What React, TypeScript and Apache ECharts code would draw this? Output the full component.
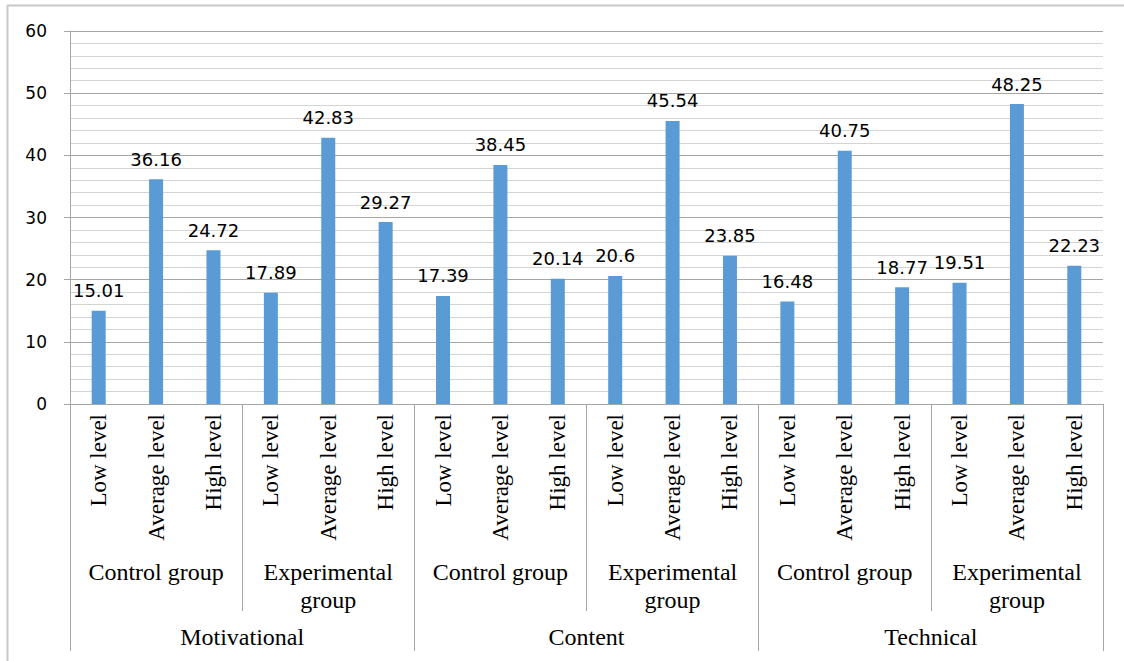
import React, { useEffect, useRef } from "react";
import * as echarts from "echarts";

const levels = [
  "Low level", "Average level", "High level",
  "Low level", "Average level", "High level",
  "Low level", "Average level", "High level",
  "Low level", "Average level", "High level",
  "Low level", "Average level", "High level",
  "Low level", "Average level", "High level",
];
const groups = [
  "Control group", "Experimental\ngroup",
  "Control group", "Experimental\ngroup",
  "Control group", "Experimental\ngroup",
];
const dimensions = ["Motivational", "Content", "Technical"];
const values = [
  15.01, 36.16, 24.72, 17.89, 42.83, 29.27,
  17.39, 38.45, 20.14, 20.6, 45.54, 23.85,
  16.48, 40.75, 18.77, 19.51, 48.25, 22.23,
];

const serif = "'Liberation Serif', 'Times New Roman', serif";
const sans = "'DejaVu Sans', sans-serif";
const axisGray = "#a6a6a6";

export default function App() {
  const ref = useRef<HTMLDivElement>(null);
  useEffect(() => {
    if (!ref.current) return;
    const chart = echarts.init(ref.current, undefined, { renderer: "svg" });
    chart.setOption({
      animation: false,
      backgroundColor: "#ffffff",
      grid: { left: 70, right: 21, top: 31, bottom: 257, containLabel: false },
      graphic: [
        { type: "line", shape: { x1: 7, y1: 5.5, x2: 1124, y2: 5.5 }, style: { stroke: "#c8c8c8", lineWidth: 2 } },
        { type: "line", shape: { x1: 7.5, y1: 5, x2: 7.5, y2: 661 }, style: { stroke: "#c8c8c8", lineWidth: 2 } },
      ],
      xAxis: [
        {
          type: "category",
          position: "bottom",
          data: levels,
          axisLine: { show: true, lineStyle: { color: axisGray, width: 1 } },
          axisTick: { show: false },
          axisLabel: {
            rotate: 90,
            interval: 0,
            margin: 10,
            fontFamily: serif,
            fontSize: 23,
            color: "#000",
          },
        },
        {
          type: "category",
          position: "bottom",
          data: groups,
          axisLine: { show: false },
          axisTick: { show: true, length: 207, lineStyle: { color: axisGray, width: 1 } },
          axisLabel: {
            interval: 0,
            margin: 154,
            fontFamily: serif,
            fontSize: 24,
            lineHeight: 28,
            color: "#000",
            verticalAlign: "top",
          },
        },
        {
          type: "category",
          position: "bottom",
          data: dimensions,
          axisLine: { show: false },
          axisTick: { show: true, length: 247, lineStyle: { color: axisGray, width: 1 } },
          axisLabel: {
            interval: 0,
            margin: 219,
            fontFamily: serif,
            fontSize: 24,
            lineHeight: 28,
            color: "#000",
            verticalAlign: "top",
          },
        },
      ],
      yAxis: {
        type: "value",
        min: 0,
        max: 60,
        interval: 10,
        axisLine: { show: true, lineStyle: { color: axisGray } },
        axisTick: { show: true, length: 6, lineStyle: { color: axisGray } },
        axisLabel: { fontFamily: sans, fontSize: 17, color: "#000", margin: 23 },
        splitLine: { show: true, lineStyle: { color: "#a6a6a6", width: 1 } },
        minorTick: { show: false, splitNumber: 5 },
        minorSplitLine: { show: true, lineStyle: { color: "#d4d4d4", width: 1 } },
      },
      series: [
        {
          type: "bar",
          data: values,
          xAxisIndex: 0,
          barWidth: 14,
          itemStyle: { color: "#5b9bd5" },
          label: {
            show: true,
            position: "top",
            distance: 11,
            fontFamily: sans,
            fontSize: 18,
            color: "#000",
          },
        },
      ],
    });
    return () => chart.dispose();
  }, []);
  return (
    <div
      ref={ref}
      style={{ position: "fixed", left: 0, top: 0, width: 1124, height: 661, background: "#fff" }}
    />
  );
}
